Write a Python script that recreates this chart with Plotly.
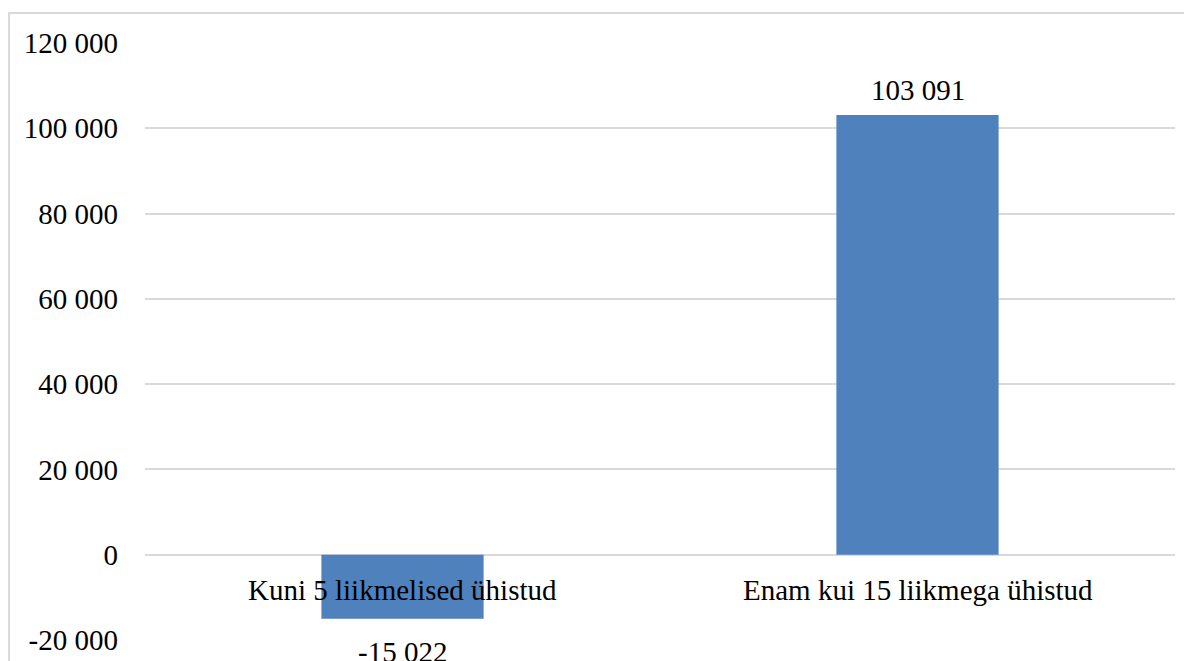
"""Bar chart: two housing association groups, Excel-like styling."""

import plotly.graph_objects as go

categories = ["Kuni 5 liikmelised ühistud", "Enam kui 15 liikmega ühistud"]
values = [-15022, 103091]
y_ticks = [-20000, 0, 20000, 40000, 60000, 80000, 100000, 120000]

_BAR = "#4F81BD"
_GRID = "#d9d9d9"
_FONT = "Times New Roman, Liberation Serif, serif"


def fmt(v):
    s = f"{abs(v):,}".replace(",", " ")
    return ("-" if v < 0 else "") + s


fig = go.Figure()
fig.add_trace(go.Bar(
    x=categories, y=values,
    width=0.315,
    marker=dict(color=_BAR, line=dict(width=0)),
    showlegend=False,
))

# data labels above / below bars
for c, v in zip(categories, values):
    fig.add_annotation(
        x=c, y=v, text=fmt(v), showarrow=False,
        yshift=25 if v >= 0 else -33,
        font=dict(family=_FONT, size=29, color="black"),
    )
    # category labels sit next to the zero line
    fig.add_annotation(
        x=c, y=0, text=c, showarrow=False, yshift=-35,
        font=dict(family=_FONT, size=29, color="black"),
    )

# chart border (cropped at right and bottom)
fig.add_shape(
    type="rect", xref="paper", yref="paper",
    x0=-0.132, x1=1.03, y0=-0.2, y1=1.0503,
    line=dict(color=_GRID, width=2), layer="below",
)

# page body has an 8px margin, so the figure is 8px smaller and shifted
fig.update_layout(
    width=1184, height=653,
    margin=dict(l=137, r=17, t=35, b=21),
    paper_bgcolor="white", plot_bgcolor="white",
    font=dict(family=_FONT, size=29, color="black"),
    xaxis=dict(showticklabels=False, showgrid=False, zeroline=False,
               showline=False, automargin=False),
    yaxis=dict(
        range=[-20000, 120000], automargin=False,
        tickvals=y_ticks, ticktext=[fmt(t) for t in y_ticks],
        showgrid=True, gridcolor=_GRID, gridwidth=1.5,
        zeroline=True, zerolinecolor=_GRID, zerolinewidth=1.5,
        showline=False, ticklabelstandoff=26,
        tickfont=dict(family=_FONT, size=29, color="black"),
    ),
)

fig.write_html("out.html")
